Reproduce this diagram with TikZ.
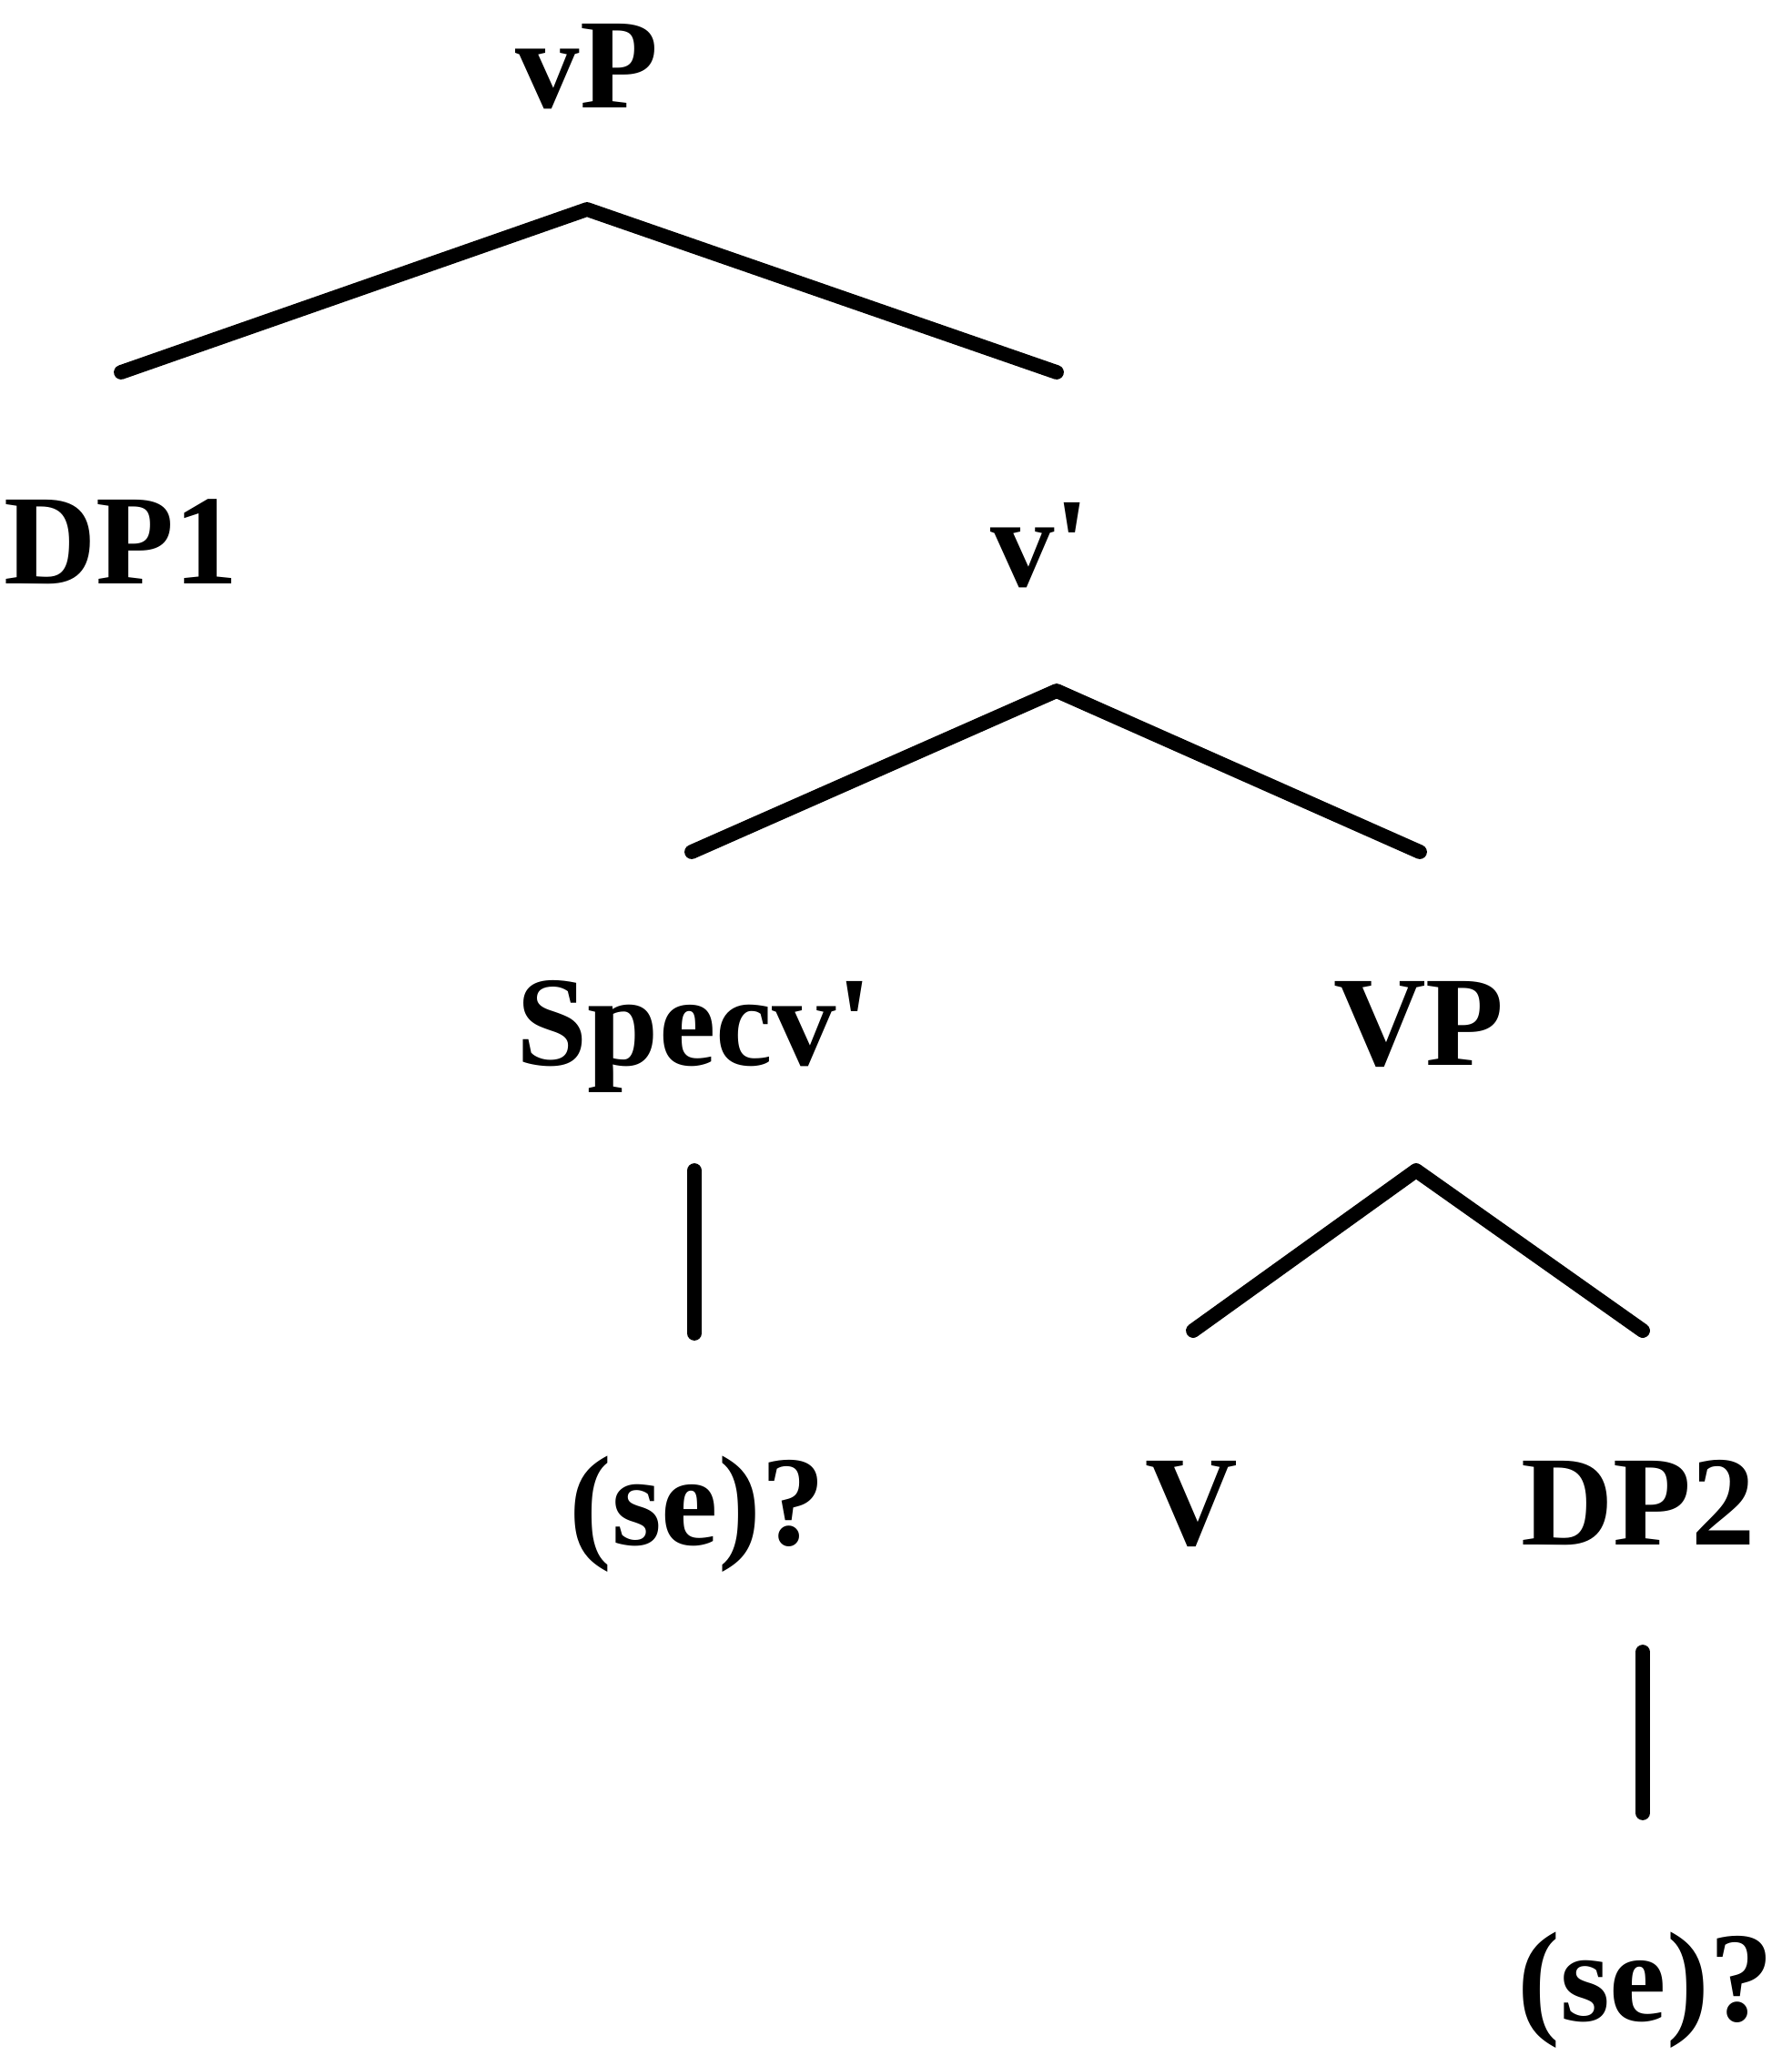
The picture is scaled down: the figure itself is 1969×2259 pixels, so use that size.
\documentclass[tikz,border=0pt]{standalone}
\usepackage{fontspec}
\setmainfont{Liberation Serif}[Ligatures=TeXOff]
\begin{document}
\begin{tikzpicture}[x=0.01cm,y=-0.01cm,
  lab/.style={anchor=base,inner sep=0pt,font=\fontsize{40pt}{48pt}\selectfont\bfseries},
  branch/.style={line width=4.5pt,line cap=round,line join=round}]
\useasboundingbox (0,0) rectangle (1969,2259);
% labels
\node[lab] (vP) at (645,118) {vP};
\node[lab] (DP1) at (133,641) {DP1};
\node[lab] (vbar) at (1143,644) {v'};
\node[lab] (Spec) at (763,1170) {Specv'};
\node[lab] (VP) at (1559,1170) {VP};
\node[lab] (se1) at (766,1697) {(se)?};
\node[lab] (V) at (1309,1697) {V};
\node[lab] (DP2) at (1800,1697) {DP2};
\node[lab] (se2) at (1808,2220) {(se)?};
% branch points
\coordinate (vP-t) at (645,230);
\coordinate (DP1-t) at (133,409);
\coordinate (vbar-t) at (1161,409);
\coordinate (vbar-b) at (1161,759);
\coordinate (Spec-t) at (760,936);
\coordinate (VP-t) at (1560,936);
\coordinate (Spec-b) at (763,1286);
\coordinate (se1-t) at (763,1465);
\coordinate (VP-b) at (1556,1286);
\coordinate (V-t) at (1311,1462);
\coordinate (DP2-t) at (1805,1462);
\coordinate (DP2-b) at (1805,1815);
\coordinate (se2-t) at (1805,1992);
% connectors
\draw[branch] (DP1-t) -- (vP-t) -- (vbar-t);
\draw[branch] (Spec-t) -- (vbar-b) -- (VP-t);
\draw[branch] (Spec-b) -- (se1-t);
\draw[branch] (V-t) -- (VP-b) -- (DP2-t);
\draw[branch] (DP2-b) -- (se2-t);
\end{tikzpicture}
\end{document}
